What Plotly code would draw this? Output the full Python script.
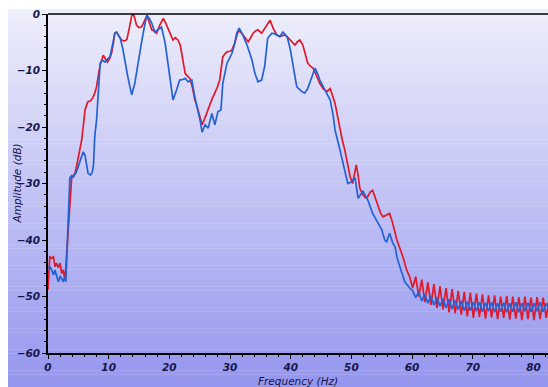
import plotly.graph_objects as go

# ---- data ----
red_freq = [0.0, 0.3, 0.6, 0.9, 1.15, 1.4, 1.7, 2.0, 2.25, 2.5, 2.8, 3.1, 3.35, 3.6, 3.9, 4.2, 4.45, 4.7, 5.0, 5.3,
            5.55, 5.8, 6.1, 6.4, 6.6, 7.0, 7.4, 7.7, 8.0, 8.3, 8.6, 9.1, 9.5, 9.8, 10.2, 10.5, 10.8, 11.0, 11.3, 11.7,
            12.1, 12.6, 13.0, 13.4, 13.8, 14.1, 14.6, 15.0, 15.4, 15.9, 16.3, 16.7, 17.1, 17.5, 17.9, 18.4, 19.0, 19.4,
            19.8, 20.2, 20.6, 21.0, 21.4, 21.8, 22.2, 22.6, 23.0, 23.4, 23.8, 24.2, 24.6, 25.0, 25.4, 25.8, 26.2, 26.7,
            27.1, 27.5, 27.9, 28.3, 28.6, 28.8, 29.2, 29.5, 30.0, 30.3, 30.8, 31.3, 31.6, 32.0, 32.5, 33.0, 33.4, 33.8,
            34.2, 34.6, 35.2, 35.6, 36.1, 36.6, 37.1, 37.7, 38.2, 38.6, 39.0, 39.4, 39.9, 40.3, 40.7, 41.1, 41.5, 42.0,
            42.4, 42.8, 43.2, 43.7, 44.2, 44.8, 45.4, 46.0, 46.5, 46.9, 47.3, 47.7, 48.1, 48.5, 48.9, 49.4, 49.8, 50.2,
            50.5, 50.8, 51.1, 51.4, 51.9, 52.3, 52.7, 53.1, 53.5, 53.9, 54.4, 54.8, 55.2, 55.8, 56.3, 56.8, 57.2, 57.5,
            58.0, 58.5, 59.1, 59.6,
            60.1, 60.6, 61.1, 61.6, 62.1, 62.6, 63.1, 63.6, 64.1, 64.6, 65.1, 65.6, 66.1, 66.6, 67.1, 67.6, 68.1, 68.6,
            69.1, 69.6, 70.1, 70.6, 71.1, 71.6, 72.1, 72.6, 73.1, 73.6, 74.1, 74.6, 75.1, 75.6, 76.1, 76.6, 77.1, 77.6,
            78.1, 78.6, 79.1, 79.6, 80.1, 80.6, 81.1, 81.6, 82.1, 82.6]
red_db = [-48.8, -43.0, -43.2, -43.0, -44.7, -44.1, -44.9, -44.1, -45.9, -45.3, -47.1, -42.0, -38.2, -33.5, -29.0,
          -28.6, -28.2, -27.0, -25.3, -23.8, -22.3, -20.0, -17.0, -16.0, -15.5, -15.4, -14.8, -14.0, -12.9, -10.8,
          -9.0, -7.3, -8.0, -8.5, -7.8, -6.8, -5.0, -3.4, -3.2, -3.9, -4.6, -4.8, -4.5, -2.5, -0.3, 0.0, -2.0, -2.4,
          -2.3, -1.2, -0.3, -1.5, -2.8, -3.0, -3.4, -2.0, -0.8, -1.6, -2.5, -3.6, -4.6, -4.2, -4.6, -5.5, -8.0, -10.5,
          -11.0, -11.4, -13.0, -15.2, -16.5, -17.9, -19.6, -18.6, -17.3, -16.0, -14.9, -14.0, -13.0, -11.7, -9.5,
          -7.6, -7.0, -6.7, -6.6, -6.4, -5.1, -3.2, -3.0, -3.6, -4.3, -4.9, -4.2, -3.4, -3.0, -2.8, -3.4, -2.8, -2.0,
          -1.1, -2.5, -3.7, -4.0, -3.9, -3.7, -4.0, -4.6, -5.2, -5.5, -4.9, -4.6, -5.5, -7.0, -8.7, -9.2, -9.6, -10.8,
          -12.3, -13.3, -13.7, -13.2, -14.5, -15.8, -18.0, -20.5, -22.3, -24.0, -27.0, -28.8, -30.0, -28.0, -26.7,
          -28.5, -30.9, -32.0, -32.5, -32.3, -31.5, -31.2, -32.5, -34.0, -35.2, -35.9, -35.5, -35.3, -37.0, -38.8,
          -40.0, -41.5, -43.0, -45.3, -46.5,
          -48.5, -46.5, -50.0, -47.0, -51.0, -47.5, -51.5, -47.8, -52.0, -48.2, -52.3, -48.5, -52.8, -48.7, -53.0,
          -49.0, -53.2, -49.2, -53.5, -49.3, -53.8, -49.5, -53.6, -49.6, -53.9, -49.8, -53.7, -49.8, -54.0, -50.0,
          -53.8, -49.9, -54.1, -50.0, -53.9, -50.1, -54.2, -50.0, -54.0, -50.2, -54.2, -50.1, -54.0, -50.2, -53.8,
          -50.3]

blue_freq = [0.0, 0.3, 0.6, 0.9, 1.15, 1.4, 1.7, 2.0, 2.25, 2.5, 2.8, 2.95, 3.1, 3.35, 3.6, 3.9, 4.2, 4.7, 5.3, 5.8,
             6.1, 6.6, 7.0, 7.3, 7.5, 7.7, 8.0, 8.2, 8.4, 8.6, 9.0, 9.4, 9.8, 10.2, 10.7, 11.0, 11.3, 11.9, 12.3, 12.7,
             13.1, 13.5, 13.8, 14.3, 14.8, 15.4, 16.0, 16.3, 16.7, 17.1, 17.6, 18.1, 18.7, 19.3, 19.8, 20.4, 20.6,
             21.2, 21.7, 22.2, 22.6, 23.1, 23.7, 24.2, 24.7, 25.1, 25.4, 25.9, 26.4, 27.0, 27.5, 28.0, 28.5, 28.8,
             29.5, 30.3, 30.7, 31.1, 31.5, 32.1, 32.8, 33.2, 33.6, 34.1, 34.6, 35.2, 35.7, 36.2, 36.9, 37.3, 37.7,
             38.2, 38.7, 39.0, 39.4, 39.9, 40.4, 41.0, 41.8, 42.3, 42.8, 43.2, 44.0, 44.4, 44.8, 45.6, 46.5, 47.0,
             47.3, 48.1, 48.9, 49.4, 50.0, 50.6, 51.1, 51.9, 52.7, 53.5, 54.7, 55.0, 55.5, 55.8, 56.3, 56.8, 57.2,
             57.5, 58.0, 58.8, 59.6,
             60.1, 60.6, 61.1, 61.6, 62.1, 62.6, 63.1, 63.6, 64.1, 64.6, 65.1, 65.6, 66.1, 66.6, 67.1, 67.6, 68.1,
             68.6, 69.1, 69.6, 70.1, 70.6, 71.1, 71.6, 72.1, 72.6, 73.1, 73.6, 74.1, 74.6, 75.1, 75.6, 76.1, 76.6,
             77.1, 77.6, 78.1, 78.6, 79.1, 79.6, 80.1, 80.6, 81.1, 81.6, 82.1, 82.6]
blue_db = [-45.0, -44.7, -45.3, -46.2, -45.3, -46.5, -47.4, -46.5, -46.8, -47.4, -46.5, -47.4, -43.0, -36.5, -29.0,
           -28.6, -28.8, -27.9, -25.8, -24.4, -25.0, -28.2, -28.5, -28.0, -26.7, -21.7, -18.8, -15.2, -11.0, -8.7,
           -8.2, -8.5, -8.0, -7.6, -5.1, -3.4, -3.2, -4.3, -6.0, -8.7, -10.8, -12.9, -14.3, -12.3, -8.7, -5.1, -1.6,
           -0.2, -0.8, -1.6, -3.2, -2.8, -2.3, -5.1, -9.3, -14.0, -15.2, -13.4, -11.7, -11.6, -11.4, -12.0, -11.7,
           -14.7, -17.0, -19.0, -20.9, -19.6, -20.2, -17.6, -19.6, -17.3, -17.0, -12.3, -8.7, -7.0, -5.5, -3.4, -2.5,
           -3.7, -5.5, -6.8, -8.1, -10.5, -12.0, -11.7, -9.3, -4.3, -3.4, -3.5, -3.7, -4.0, -3.2, -3.5, -4.0, -6.1,
           -9.3, -12.9, -13.7, -14.0, -13.2, -12.0, -9.6, -10.5, -11.7, -13.4, -15.2, -18.0, -20.5, -24.0, -27.6,
           -30.0, -29.7, -29.0, -32.6, -31.4, -32.9, -35.3, -37.6, -38.2, -40.0, -40.3, -38.8, -40.5, -41.2, -43.0,
           -44.8, -47.4, -48.5,
           -49.0, -50.2, -49.2, -50.8, -49.6, -51.2, -49.9, -51.5, -50.2, -51.7, -50.4, -52.0, -50.5, -52.2, -50.7,
           -52.3, -50.8, -52.5, -50.9, -52.5, -51.0, -52.6, -51.0, -52.7, -51.1, -52.6, -51.0, -52.8, -51.2, -52.7,
           -51.1, -52.8, -51.2, -52.7, -51.0, -52.8, -51.2, -52.6, -51.1, -52.7, -51.2, -52.6, -51.0, -52.7, -51.2,
           -52.5]

x_ticks = [0, 10, 20, 30, 40, 50, 60, 70, 80]
y_ticks = [0, -10, -20, -30, -40, -50, -60]

RED = "#e0192b"
BLUE = "#2462d4"
NAVY = "#16164a"

fig = go.Figure()
fig.add_trace(go.Scatter(x=red_freq, y=red_db, mode="lines",
                         line=dict(color=RED, width=1.7), showlegend=False))
fig.add_trace(go.Scatter(x=blue_freq, y=blue_db, mode="lines",
                         line=dict(color=BLUE, width=1.7), showlegend=False))

# gradient background built from horizontal strips (paper coords)
n = 90
y_top, y_bot = 1.0147, -0.1003
c_top = (238, 238, 251)
c_bot = (148, 150, 238)
shapes = []
for i in range(n):
    t0 = i / n
    t1 = (i + 1) / n
    tm = (t0 + t1) / 2
    col = tuple(round(c_top[k] + (c_bot[k] - c_top[k]) * tm) for k in range(3))
    shapes.append(dict(type="rect", xref="paper", yref="paper", layer="below",
                       x0=-0.08, x1=1.0,
                       y0=y_top + (y_bot - y_top) * t1 - 0.001,
                       y1=y_top + (y_bot - y_top) * t0,
                       line=dict(width=0),
                       fillcolor="rgb(%d,%d,%d)" % col))
# top frame line
shapes.append(dict(type="line", xref="paper", yref="paper", x0=0, x1=1, y0=1, y1=1,
                   line=dict(color="black", width=1.5)))

tickfont = dict(family="DejaVu Sans", size=10.5, color=NAVY, weight="bold", style="italic")

fig.update_layout(
    width=548, height=387,
    margin=dict(l=48, r=0, t=14, b=34),
    paper_bgcolor="white",
    plot_bgcolor="rgba(0,0,0,0)",
    shapes=shapes,
    xaxis=dict(range=[0, 82.4], tickvals=x_ticks, showgrid=False, zeroline=False,
               showline=True, linecolor="black", linewidth=1.5,
               ticks="outside", ticklen=4, tickcolor="black", tickwidth=1.2,
               minor=dict(dtick=2, ticks="outside", ticklen=2, tickcolor="black"),
               tickfont=tickfont),
    yaxis=dict(range=[-60, 0], tickvals=y_ticks, showgrid=False, zeroline=False,
               showline=True, linecolor="black", linewidth=1.5,
               ticks="outside", ticklen=4, tickcolor="black", tickwidth=1.2,
               minor=dict(dtick=2, ticks="outside", ticklen=2, tickcolor="black"),
               tickfont=tickfont),
    annotations=[
        dict(text="Frequency (Hz)", xref="paper", yref="paper", x=0.5, y=-0.0826,
             showarrow=False, xanchor="center", yanchor="middle",
             font=dict(family="DejaVu Sans", size=10.5, color=NAVY, style="italic")),
        dict(text="Amplitude (dB)", xref="paper", yref="paper", x=-0.064, y=0.5,
             showarrow=False, xanchor="center", yanchor="middle", textangle=-90,
             font=dict(family="DejaVu Sans", size=10.5, color=NAVY, style="italic")),
    ],
)

fig.write_html("out.html",
               config={"displayModeBar": False},
               post_script="document.body.style.margin='0';document.body.style.padding='0';"
                           "document.documentElement.style.overflow='hidden';")
